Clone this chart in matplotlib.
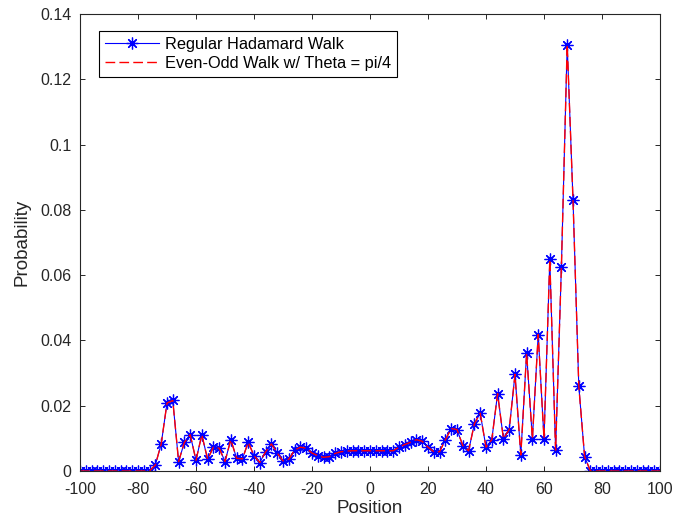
import matplotlib
matplotlib.use("Agg")
import matplotlib.pyplot as plt
from matplotlib.ticker import FormatStrFormatter

plt.rcParams['font.family'] = ['Liberation Sans', 'DejaVu Sans']
plt.rcParams['axes.unicode_minus'] = False

# positions of the walker after 100 steps (only even sites are reachable)
positions = list(range(-100, 101, 2))

# probabilities, position -100 .. 100 in steps of 2
hadamard_prob = [
    0, 0, 0, 0, 0, 0, 0, 0, 0, 0, 0, 0, 0,            # -100 .. -76
    0.0019, 0.0083, 0.0208, 0.0216, 0.0029, 0.0088,   # -74 .. -64
    0.0111, 0.0033, 0.0111, 0.0036, 0.0073, 0.0070,   # -62 .. -52
    0.0029, 0.0096, 0.0039, 0.0037, 0.0088, 0.0047,   # -50 .. -40
    0.0026, 0.0059, 0.0083, 0.0055, 0.0031, 0.0036,   # -38 .. -28
    0.0064, 0.0073, 0.0070, 0.0055, 0.0047, 0.0042,   # -26 .. -16
    0.0044, 0.0054, 0.0059, 0.0061, 0.0062, 0.0062,   # -14 .. -4
    0.0062, 0.0062, 0.0062, 0.0062, 0.0062, 0.0062,   # -2 .. 8
    0.0073, 0.0081, 0.0088, 0.0096, 0.0091, 0.0073,   # 10 .. 20
    0.0059, 0.0059, 0.0096, 0.0130, 0.0127, 0.0078,   # 22 .. 32
    0.0062, 0.0145, 0.0177, 0.0073, 0.0096, 0.0237,   # 34 .. 44
    0.0099, 0.0127, 0.0296, 0.0049, 0.0361, 0.0099,   # 46 .. 56
    0.0418, 0.0099, 0.0648, 0.0064, 0.0626, 0.1306,   # 58 .. 68
    0.0831, 0.0260, 0.0044,                           # 70 .. 74
    0, 0, 0, 0, 0, 0, 0, 0, 0, 0, 0, 0, 0,            # 76 .. 100
]
# the even-odd walk with theta = pi/4 gives the same distribution
even_odd_prob = list(hadamard_prob)

labels = ['Regular Hadamard Walk', 'Even-Odd Walk w/ Theta = pi/4']

dark = (0.15, 0.15, 0.15)

fig = plt.figure(figsize=(6.73, 5.31), dpi=100)
ax = fig.add_axes([80 / 673, 1 - 471 / 531, 580 / 673, 457 / 531])

ax.plot(positions, hadamard_prob, color='blue', linewidth=0.8,
        marker=(8, 2, 0), markersize=8.5, markeredgewidth=0.9,
        label=labels[0])
ax.plot(positions, even_odd_prob, color='red', linewidth=1.0,
        linestyle=(0, (7, 3)), label=labels[1])

ax.set_xlim(-100, 100)
ax.set_ylim(0, 0.14)
ax.set_xticks(range(-100, 101, 20))
ax.set_yticks([0, 0.02, 0.04, 0.06, 0.08, 0.1, 0.12, 0.14])
ax.yaxis.set_major_formatter(FormatStrFormatter('%g'))

# matlab style box with inward ticks on every side
ax.tick_params(direction='in', top=True, right=True, length=3.5,
               width=0.7, labelsize=11.5, colors=dark)
ax.tick_params(axis='x', pad=8)
ax.tick_params(axis='y', pad=6)
for sp in ax.spines.values():
    sp.set_color(dark)
    sp.set_linewidth(0.8)

ax.set_xlabel('Position', fontsize=13.5, color=dark, labelpad=2)
ax.set_ylabel('Probability', fontsize=13.5, color=dark, labelpad=7)

leg = ax.legend(loc='upper left', bbox_to_anchor=(0.033, 0.962),
                borderaxespad=0, fancybox=False, framealpha=1,
                edgecolor='black', fontsize=11.8, handlelength=3.3,
                handletextpad=0.35, labelspacing=0.25, borderpad=0.35)
leg.get_frame().set_linewidth(0.8)
for t in leg.get_texts():
    t.set_color('black')

fig.savefig('out.png', dpi=100)
